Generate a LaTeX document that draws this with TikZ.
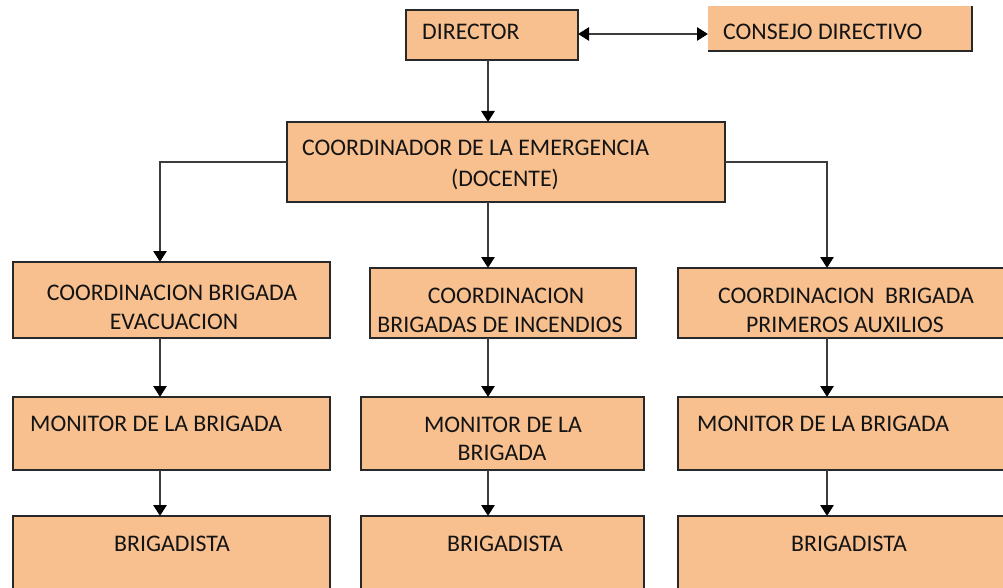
\documentclass[tikz,border=0pt]{standalone}
\usepackage{fontspec}
\setmainfont{Carlito}
\usetikzlibrary{arrows.meta}
\definecolor{boxfill}{RGB}{248,192,143}
\definecolor{edgec}{RGB}{40,40,40}
\definecolor{linec}{RGB}{60,60,60}
\definecolor{txtc}{RGB}{20,20,20}
\tikzset{
  box/.style={draw=edgec, line width=1.5pt, fill=boxfill, anchor=north west, inner sep=0pt, outer sep=0pt},
  lbl/.style={font=\fontsize{23.8}{28}\selectfont, text=txtc, inner sep=0pt},
  tip/.tip={Triangle[length=11pt,width=13pt,color=black]},
  conn/.style={draw=linec, line width=2.6pt, -tip},
  biconn/.style={draw=linec, line width=2.6pt, tip-tip},
}
\begin{document}
\begin{tikzpicture}[x=1pt,y=-1pt]
\useasboundingbox (0,0) rectangle (1003,588);
\clip (0,0) rectangle (1003,588);
% column axes
\coordinate (colL) at (160,0);
\coordinate (colM) at (488,0);
\coordinate (colR) at (827,0);
% top
\node[box, minimum width=172pt, minimum height=50pt] (dir) at (406,10) {};
\node[box, draw=none, minimum width=264pt, minimum height=45pt] (cons) at (708,6) {};
\draw[edgec, line width=1.6pt] (cons.north east) -- (cons.south east) -- (cons.south west);
\node[box, minimum width=438pt, minimum height=80pt] (coord) at (287,122) {};
% row 2
\node[box, minimum width=317pt, minimum height=76pt] (evac) at (13,262) {};
\node[box, minimum width=266pt, minimum height=70pt] (inc) at (370,268) {};
\node[box, minimum width=335pt, minimum height=70pt] (prim) at (678,268) {};
% row 3
\node[box, minimum width=317pt, minimum height=73pt] (monL) at (13,397) {};
\node[box, minimum width=283pt, minimum height=73pt] (monM) at (361,397) {};
\node[box, minimum width=335pt, minimum height=73pt] (monR) at (678,397) {};
% row 4
\node[box, minimum width=317pt, minimum height=90pt] (brL) at (13,516) {};
\node[box, minimum width=283pt, minimum height=90pt] (brM) at (361,516) {};
\node[box, minimum width=335pt, minimum height=90pt] (brR) at (678,516) {};
% texts
\node[lbl, anchor=base west] (tdir) at (422,40) {DIRECTOR};
\node[lbl, anchor=base west] (tcons) at (723,40) {CONSEJO DIRECTIVO};
\node[lbl, anchor=base west] (tco1) at (302,156) {COORDINADOR DE LA EMERGENCIA};
\node[lbl, anchor=base] (tco2) at (505,186) {(DOCENTE)};
\node[lbl, anchor=base] (tev1) at (172,300) {COORDINACION BRIGADA};
\node[lbl, anchor=base] (tev2) at (174,329) {EVACUACION};
\node[lbl, anchor=base] (tin1) at (506,303) {COORDINACION};
\node[lbl, anchor=base] (tin2) at (500,332) {BRIGADAS DE INCENDIOS};
\node[lbl, anchor=base] (tpr1) at (846,303) {COORDINACION\ \ BRIGADA};
\node[lbl, anchor=base] (tpr2) at (845,332) {PRIMEROS AUXILIOS};
\node[lbl, anchor=base west] (tmL) at (30,431) {MONITOR DE LA BRIGADA};
\node[lbl, anchor=base] (tmM1) at (503,432) {MONITOR DE LA};
\node[lbl, anchor=base] (tmM2) at (502,460) {BRIGADA};
\node[lbl, anchor=base west] (tmR) at (697,431) {MONITOR DE LA BRIGADA};
\node[lbl, anchor=base] (tbL) at (172,551) {BRIGADISTA};
\node[lbl, anchor=base] (tbM) at (505,551) {BRIGADISTA};
\node[lbl, anchor=base] (tbR) at (849,551) {BRIGADISTA};
% connectors
\draw[biconn] (dir.east |- 0,34) -- (cons.west |- 0,34);
\draw[conn] (dir.south -| colM) -- (coord.north -| colM);
\draw[conn] (coord.west) -| (evac.north -| colL);
\draw[conn] (coord.south -| colM) -- (inc.north -| colM);
\draw[conn] (coord.east) -| (prim.north -| colR);
\draw[conn] (evac.south -| colL) -- (monL.north -| colL);
\draw[conn] (inc.south -| colM) -- (monM.north -| colM);
\draw[conn] (prim.south -| colR) -- (monR.north -| colR);
\draw[conn] (monL.south -| colL) -- (brL.north -| colL);
\draw[conn] (monM.south -| colM) -- (brM.north -| colM);
\draw[conn] (monR.south -| colR) -- (brR.north -| colR);
\end{tikzpicture}
\end{document}
